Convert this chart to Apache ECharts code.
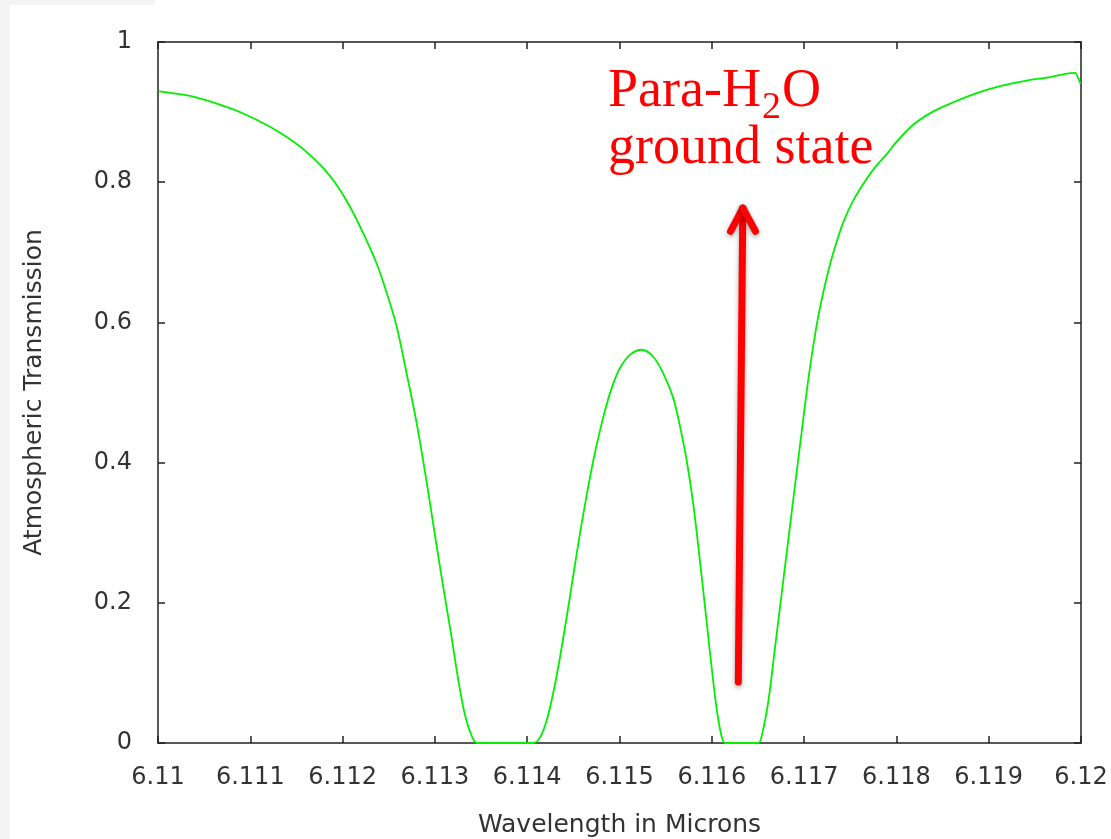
<!DOCTYPE html>
<html>
<head>
<meta charset="utf-8">
<title>Atmospheric Transmission near 6.115 µm</title>
<script src="https://cdn.jsdelivr.net/npm/echarts@6/dist/echarts.min.js"></script>
<style>
  html, body { margin: 0; padding: 0; background: #ffffff; }
  #edgeLeft { position: absolute; left: 0; top: 0; width: 10px; height: 839px; background: #f4f4f4; }
  #edgeTop { position: absolute; left: 0; top: 0; width: 155px; height: 5px; background: #f4f4f4; }
  #chart { position: absolute; left: 0; top: 0; width: 1111px; height: 839px; }
</style>
</head>
<body>
<div id="edgeLeft"></div>
<div id="edgeTop"></div>
<div id="chart"></div>
<script>
// Wavelength samples (microns) and the transmission at each one
const wavelength = [
  6.110003, 6.110347, 6.110636, 6.110924, 6.111213, 6.111466, 6.111611, 6.111791,
  6.111936, 6.112080, 6.112224, 6.112369, 6.112478, 6.112586, 6.112694, 6.112803,
  6.112911, 6.113001, 6.113091, 6.113182, 6.113253, 6.113326, 6.113399, 6.113456,
  6.113760, 6.114066, 6.114139, 6.114211, 6.114283, 6.114355, 6.114428, 6.114500,
  6.114572, 6.114645, 6.114716, 6.114789, 6.114861, 6.114933, 6.115005, 6.115114,
  6.115240, 6.115366, 6.115475, 6.115583, 6.115655, 6.115728, 6.115800, 6.115872,
  6.115945, 6.116016, 6.116067, 6.116110, 6.116143, 6.116320, 6.116504, 6.116544,
  6.116612, 6.116685, 6.116757, 6.116829, 6.116901, 6.116974, 6.117046, 6.117136,
  6.117208, 6.117281, 6.117353, 6.117425, 6.117533, 6.117678, 6.117786, 6.117895,
  6.118003, 6.118183, 6.118400, 6.118617, 6.118870, 6.119122, 6.119411, 6.119664,
  6.119845, 6.119935, 6.119971, 6.119995
];
const transmission = [
  0.930, 0.923, 0.912, 0.898, 0.879, 0.858, 0.843, 0.820,
  0.796, 0.765, 0.727, 0.684, 0.642, 0.594, 0.527, 0.456,
  0.372, 0.296, 0.222, 0.150, 0.090, 0.040, 0.010, 0.000,
  0.000, 0.000, 0.008, 0.032, 0.072, 0.122, 0.180, 0.240,
  0.299, 0.354, 0.403, 0.446, 0.483, 0.513, 0.535, 0.554,
  0.561, 0.551, 0.527, 0.492, 0.452, 0.403, 0.340, 0.259,
  0.172, 0.087, 0.036, 0.008, 0.000, 0.000, 0.000, 0.012,
  0.059, 0.136, 0.213, 0.290, 0.367, 0.444, 0.519, 0.596,
  0.643, 0.683, 0.715, 0.743, 0.774, 0.805, 0.824, 0.840,
  0.858, 0.882, 0.901, 0.914, 0.927, 0.937, 0.945, 0.950,
  0.955, 0.956, 0.948, 0.940
];

// Tick labels
const xTickLabels = ['6.11', '6.111', '6.112', '6.113', '6.114', '6.115',
                     '6.116', '6.117', '6.118', '6.119', '6.12'];
const yTickLabels = ['0', '0.2', '0.4', '0.6', '0.8', '1'];

// Arrow marking the para-H2O ground-state line (data coordinates)
const arrowShaft = [[6.116287, 0.087], [6.116336, 0.763]];
const arrowHeadLeft = [[6.116203, 0.730], [6.116336, 0.763]];
const arrowHeadRight = [[6.116473, 0.730], [6.116336, 0.763]];

const X_MIN = 6.11, X_STEP = 0.001;
const Y_STEP = 0.2;

const textColor = '#333333';
const axisColor = '#222222';
const sansFont = 'DejaVu Sans';
const serifFont = 'Liberation Serif';
const noteRed = '#ff0000';

// Annotation text metrics, so the subscript sits right after "Para-H"
const measureCtx = document.createElement('canvas').getContext('2d');
function textWidth(str, size) {
  measureCtx.font = size + 'px "' + serifFont + '"';
  return measureCtx.measureText(str).width;
}
const NOTE_LEFT = 608, NOTE_TOP = 63, NOTE_SIZE = 54, SUB_SIZE = 38;
const widthParaH = textWidth('Para-H', NOTE_SIZE);
const widthSub = textWidth('2', SUB_SIZE);

const chart = echarts.init(document.getElementById('chart'), null, { renderer: 'canvas' });

const tickStyle = { show: true, inside: true, length: 7, lineStyle: { color: axisColor, width: 1.5 } };
const lineStyleAxis = { show: true, onZero: false, lineStyle: { color: axisColor, width: 1.5 } };

const arrowLine = { color: noteRed, width: 7, type: 'solid', cap: 'round',
  shadowBlur: 5, shadowColor: 'rgba(0,0,0,0.35)', shadowOffsetY: 2 };

function noteText(str, left, top, size) {
  return {
    type: 'text', left: left, top: top, z: 10, silent: true,
    style: { text: str, fill: noteRed, fontFamily: serifFont, fontSize: size, lineHeight: size === NOTE_SIZE ? 57 : size }
  };
}

chart.setOption({
  backgroundColor: 'transparent',
  animation: false,
  grid: { left: 158, right: 30, top: 42, bottom: 96, containLabel: false, outerBoundsMode: 'none' },
  xAxis: [
    {
      type: 'value', position: 'bottom', min: 6.11, max: 6.12, interval: X_STEP,
      name: 'Wavelength in Microns', nameLocation: 'middle', nameGap: 70,
      nameTextStyle: { color: textColor, fontFamily: sansFont, fontSize: 25 },
      axisLine: lineStyleAxis, axisTick: tickStyle, splitLine: { show: false },
      axisLabel: {
        color: textColor, fontFamily: sansFont, fontSize: 24, margin: 23,
        showMinLabel: true, showMaxLabel: true, hideOverlap: false,
        formatter: v => xTickLabels[Math.round((v - X_MIN) / X_STEP)]
      }
    },
    {
      type: 'value', position: 'top', min: 6.11, max: 6.12, interval: X_STEP,
      axisLine: lineStyleAxis, axisTick: tickStyle, splitLine: { show: false },
      axisLabel: { show: false }
    }
  ],
  yAxis: [
    {
      type: 'value', position: 'left', min: 0, max: 1, interval: Y_STEP,
      name: 'Atmospheric Transmission', nameLocation: 'middle', nameGap: 111,
      nameTextStyle: { color: textColor, fontFamily: sansFont, fontSize: 25 },
      axisLine: lineStyleAxis, axisTick: tickStyle, splitLine: { show: false },
      axisLabel: {
        color: textColor, fontFamily: sansFont, fontSize: 24, margin: 26,
        showMinLabel: true, showMaxLabel: true,
        formatter: v => yTickLabels[Math.round(v / Y_STEP)]
      }
    },
    {
      type: 'value', position: 'right', min: 0, max: 1, interval: Y_STEP,
      axisLine: lineStyleAxis, axisTick: tickStyle, splitLine: { show: false },
      axisLabel: { show: false }
    }
  ],
  series: [
    {
      type: 'line',
      xAxisIndex: 0, yAxisIndex: 0,
      data: wavelength.map((w, i) => [w, transmission[i]]),
      showSymbol: false,
      smooth: 0.3,
      clip: true,
      lineStyle: { color: '#00f000', width: 1.8 },
      z: 3,
      markLine: {
        silent: true,
        symbol: ['none', 'none'],
        label: { show: false },
        animation: false,
        lineStyle: arrowLine,
        data: [
          [{ coord: arrowShaft[0] }, { coord: arrowShaft[1] }],
          [{ coord: arrowHeadLeft[0] }, { coord: arrowHeadLeft[1] }],
          [{ coord: arrowHeadRight[0] }, { coord: arrowHeadRight[1] }]
        ]
      }
    }
  ],
  graphic: [
    noteText('Para-H', NOTE_LEFT, NOTE_TOP, NOTE_SIZE),
    noteText('2', NOTE_LEFT + widthParaH + 1, NOTE_TOP + 26, SUB_SIZE),
    noteText('O', NOTE_LEFT + widthParaH + widthSub + 2, NOTE_TOP, NOTE_SIZE),
    noteText('ground state', NOTE_LEFT, NOTE_TOP + 57, NOTE_SIZE)
  ]
});
</script>
</body>
</html>
